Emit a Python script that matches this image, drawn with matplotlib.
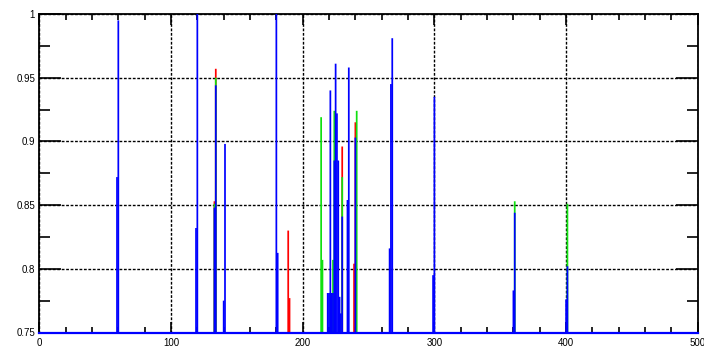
import matplotlib
matplotlib.use("Agg")
import matplotlib.pyplot as plt
from matplotlib.ticker import MultipleLocator, FixedLocator, FixedFormatter

# Peak positions and heights for the three channels
red_x = [133, 134, 189, 190, 230, 239, 240]
red_v = [0.853, 0.957, 0.830, 0.777, 0.896, 0.804, 0.915]

green_x = [133, 134, 214, 215, 223, 224, 230, 241, 361, 401]
green_v = [0.851, 0.950, 0.919, 0.807, 0.807, 0.924, 0.872, 0.924, 0.853, 0.851]

blue_x = [59, 60, 119, 120, 133, 134, 140, 141, 180, 181,
          219, 220, 221, 222, 223, 224, 225, 226, 227, 228, 229, 230,
          234, 235, 240, 266, 267, 268, 299, 300, 360, 361, 400, 401]
blue_v = [0.872, 0.995, 0.832, 1.02, 0.848, 0.944, 0.775, 0.898, 1.02, 0.8125,
          0.781, 0.781, 0.940, 0.781, 0.781, 0.885, 0.961, 0.922, 0.885, 0.778, 0.765, 0.841,
          0.854, 0.958, 0.903, 0.816, 0.945, 0.981, 0.795, 0.935, 0.783, 0.844, 0.776, 0.802]

baseline = 0.75
x_ticks = [0, 100, 200, 300, 400, 500]
y_ticks = [0.75, 0.8, 0.85, 0.9, 0.95, 1.0]
y_tick_labels = ["0.75", "0.8", "0.85", "0.9", "0.95", "1"]

RED = "#ff0000"
GREEN = "#10e010"
BLUE = "#0000ff"

fig = plt.figure(figsize=(7.04, 3.52), dpi=100)
ax = fig.add_axes([39.3 / 704, 1 - 332.5 / 352, (697.8 - 39.3) / 704, (332.5 - 14) / 352])

for xs, vs, col, z in [(red_x, red_v, RED, 3), (green_x, green_v, GREEN, 4), (blue_x, blue_v, BLUE, 5)]:
    lc = ax.vlines(xs, baseline, vs, colors=col, linewidth=1.25, zorder=z)
    lc.set_snap(False)
ax.axhline(baseline, color=BLUE, linewidth=1.6, zorder=6, clip_on=False)

ax.set_xlim(0, 500)
ax.set_ylim(0.75, 1.0)

ax.xaxis.set_major_locator(FixedLocator(x_ticks))
ax.xaxis.set_minor_locator(MultipleLocator(20))
ax.yaxis.set_major_locator(FixedLocator(y_ticks))
ax.yaxis.set_major_formatter(FixedFormatter(y_tick_labels))
ax.yaxis.set_minor_locator(MultipleLocator(0.025))

ax.tick_params(axis="both", which="both", direction="in", top=True, right=True,
               colors="black", labelsize=7)
ax.tick_params(axis="y", which="major", length=16, width=1.2, pad=3)
ax.tick_params(axis="y", which="minor", length=8, width=1.2)
ax.tick_params(axis="x", which="major", length=8, width=1.2, pad=4)
ax.tick_params(axis="x", which="minor", length=4, width=1.2)

for lab in ax.get_xticklabels() + ax.get_yticklabels():
    lab.set_fontfamily("Liberation Sans")

ax.grid(True, which="major", color="black", linestyle=(0, (2.0, 1.2)), linewidth=1.0, zorder=1)
ax.set_axisbelow(True)

for side in ["top", "bottom", "left", "right"]:
    ax.spines[side].set_linewidth(1.3)
    ax.spines[side].set_color("black")

fig.savefig("out.png", dpi=100, facecolor="white")
